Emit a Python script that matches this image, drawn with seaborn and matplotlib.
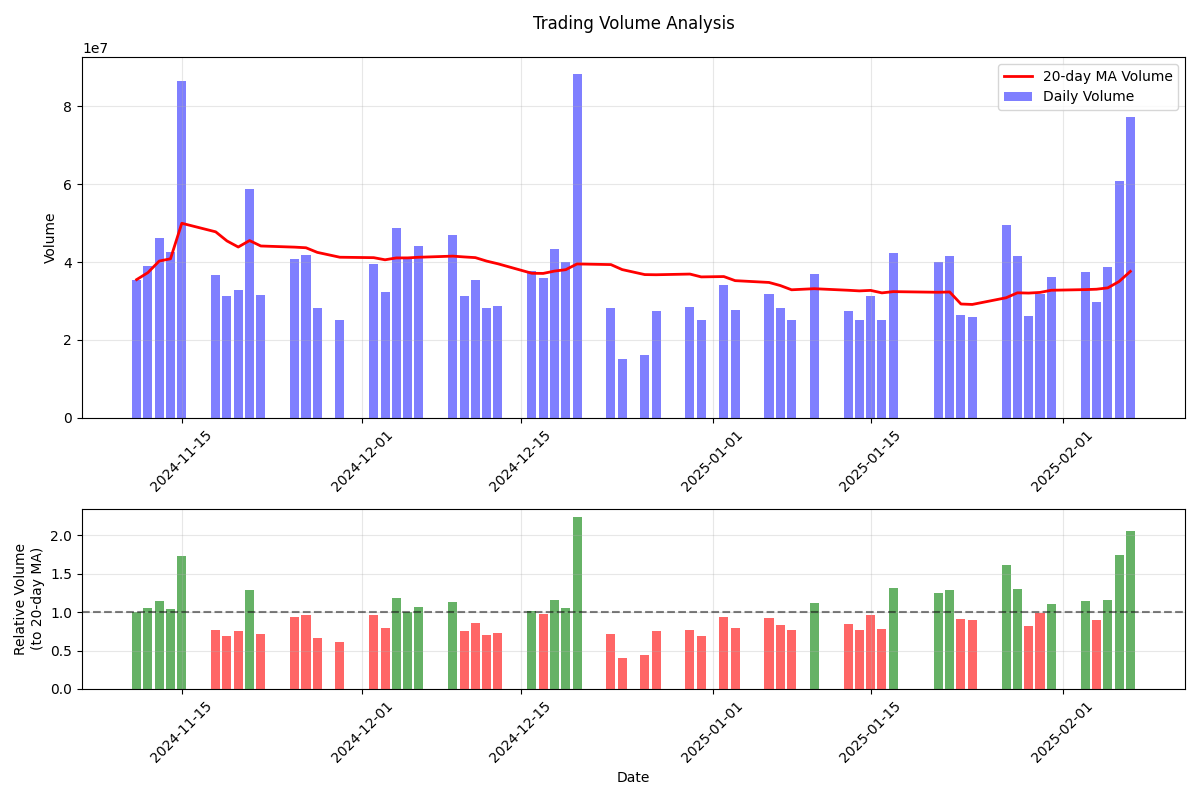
import matplotlib
matplotlib.use("Agg")
import matplotlib.pyplot as plt
import seaborn as sns
import pandas as pd
import numpy as np

dates = [
    "2024-11-11", "2024-11-12", "2024-11-13", "2024-11-14", "2024-11-15",
    "2024-11-18", "2024-11-19", "2024-11-20", "2024-11-21", "2024-11-22",
    "2024-11-25", "2024-11-26", "2024-11-27", "2024-11-29",
    "2024-12-02", "2024-12-03", "2024-12-04", "2024-12-05", "2024-12-06",
    "2024-12-09", "2024-12-10", "2024-12-11", "2024-12-12", "2024-12-13",
    "2024-12-16", "2024-12-17", "2024-12-18", "2024-12-19", "2024-12-20",
    "2024-12-23", "2024-12-24", "2024-12-26", "2024-12-27",
    "2024-12-30", "2024-12-31", "2025-01-02", "2025-01-03",
    "2025-01-06", "2025-01-07", "2025-01-08", "2025-01-10",
    "2025-01-13", "2025-01-14", "2025-01-15", "2025-01-16", "2025-01-17",
    "2025-01-21", "2025-01-22", "2025-01-23", "2025-01-24",
    "2025-01-27", "2025-01-28", "2025-01-29", "2025-01-30", "2025-01-31",
    "2025-02-03", "2025-02-04", "2025-02-05", "2025-02-06", "2025-02-07",
]

volume_e7 = [
    3.55, 3.91, 4.62, 4.26, 8.65,
    3.68, 3.14, 3.29, 5.88, 3.16,
    4.09, 4.19, 2.83, 2.50,
    3.96, 3.24, 4.88, 4.12, 4.42,
    4.70, 3.14, 3.55, 2.83, 2.88,
    3.78, 3.60, 4.34, 4.01, 8.83,
    2.83, 1.52, 1.62, 2.75,
    2.85, 2.50, 3.42, 2.78,
    3.19, 2.83, 2.52, 3.70,
    2.75, 2.50, 3.14, 2.50, 4.24,
    4.01, 4.16, 2.65, 2.60,
    4.96, 4.16, 2.62, 3.18, 3.62,
    3.75, 2.98, 3.88, 6.09, 7.73,
]

df = pd.DataFrame({"Date": pd.to_datetime(dates),
                   "Volume": np.array(volume_e7) * 1e7})
df["MA20"] = df["Volume"].rolling(20, min_periods=1).mean()
df["Rel"] = df["Volume"] / df["MA20"]

fig, (ax1, ax2) = plt.subplots(2, 1, figsize=(12, 8), dpi=100,
                               gridspec_kw={"height_ratios": [2, 1]})
fig.subplots_adjust(left=0.0683, right=0.9875, top=0.92875,
                    bottom=0.13875, hspace=0.336)

ax1.bar(df["Date"], df["Volume"], width=0.8, color="blue", alpha=0.5,
        label="Daily Volume")
sns.lineplot(data=df, x="Date", y="MA20", ax=ax1, color="red",
             linewidth=2, label="20-day MA Volume")
ax1.set_title("Trading Volume Analysis", pad=20, fontsize=12)
ax1.set_ylabel("Volume")
ax1.set_xlabel("")
ax1.grid(True, alpha=0.3)
ax1.legend(loc="upper right")
ax1.tick_params(axis="x", rotation=45)

colors = ["green" if r >= 1 else "red" for r in df["Rel"]]
ax2.bar(df["Date"], df["Rel"], width=0.8, color=colors, alpha=0.6)
ax2.axhline(y=1, color="black", linestyle="--", alpha=0.5)
ax2.set_ylabel("Relative Volume\n(to 20-day MA)")
ax2.set_xlabel("Date")
ax2.grid(True, alpha=0.3)
ax2.tick_params(axis="x", rotation=45)

fig.savefig("out.png", dpi=100)
